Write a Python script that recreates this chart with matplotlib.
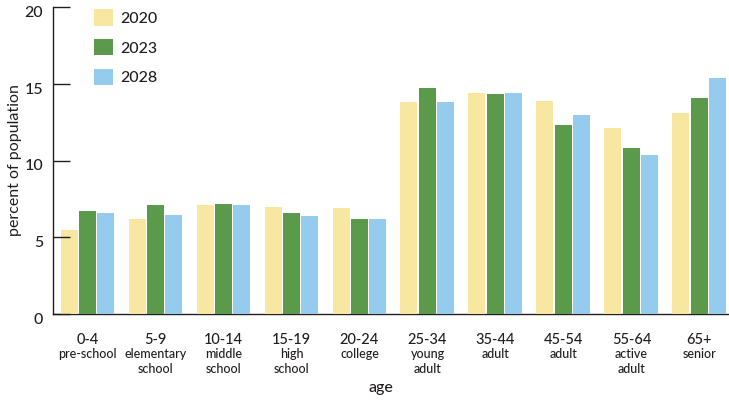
import matplotlib
matplotlib.use("Agg")
import matplotlib.pyplot as plt
from matplotlib.patches import Patch
from matplotlib.transforms import ScaledTranslation
import numpy as np

# ---- data ----
age_groups = ["0-4", "5-9", "10-14", "15-19", "20-24", "25-34", "35-44", "45-54", "55-64", "65+"]
age_names = ["pre-school", "elementary\nschool", "middle\nschool", "high\nschool", "college",
             "young\nadult", "adult", "adult", "active\nadult", "senior"]
years = ["2020", "2023", "2028"]
pct_2020 = [5.5, 6.2, 7.1, 7.0, 6.9, 13.8, 14.4, 13.85, 12.1, 13.1]
pct_2023 = [6.7, 7.1, 7.15, 6.6, 6.2, 14.7, 14.35, 12.3, 10.8, 14.05]
pct_2028 = [6.6, 6.45, 7.1, 6.4, 6.2, 13.8, 14.4, 12.95, 10.35, 15.35]
yticks = [0, 5, 10, 15, 20]

# ---- style ----
colors = ["#F7E7A1", "#5B9A4A", "#95CBED"]
text_color = "#231F20"
plt.rcParams['font.family'] = ['Lato', 'DejaVu Sans']
plt.rcParams['font.weight'] = 'medium'

W, H = 729, 401
fig = plt.figure(figsize=(W / 100, H / 100), dpi=100)
ax = fig.add_axes([53.3 / W, 1 - 314.3 / H, (W - 53.3) / W, (314.3 - 6.7) / H])

x = np.arange(len(age_groups))
width = 0.25
step = 0.272
for k, (vals, col) in enumerate(zip([pct_2020, pct_2023, pct_2028], colors)):
    ax.bar(x + (k - 1) * step, vals, width=width, color=col, linewidth=0, zorder=1)

ax.set_xlim(-0.503, 9.434)
ax.set_ylim(0, 20)

for s in ["top", "right"]:
    ax.spines[s].set_visible(False)
for s in ["left", "bottom"]:
    ax.spines[s].set_color(text_color)
    ax.spines[s].set_linewidth(1.0)
    ax.spines[s].set_zorder(0.5)

ax.set_yticks(yticks)
ax.set_yticklabels([str(t) for t in yticks])
ax.tick_params(axis="y", direction="in", length=12.2, width=1.0, color=text_color,
               pad=7.2, labelsize=11.5, labelcolor=text_color)
for lab in ax.get_yticklabels():
    lab.set_transform(lab.get_transform() + ScaledTranslation(0, -4.5 / 100, fig.dpi_scale_trans))

ax.set_xticks(x)
ax.set_xticklabels(age_groups)
ax.tick_params(axis="x", length=0, pad=13.5, labelsize=10.5, labelcolor=text_color)

for i, name in enumerate(age_names):
    ax.annotate(name, xy=(i, 0), xycoords=("data", "axes fraction"),
                xytext=(0, -34 * 0.72), textcoords="offset points",
                ha="center", va="top", fontsize=9, color=text_color, linespacing=1.3)

ax.set_ylabel("percent of population", fontsize=11.5, color=text_color)
ax.yaxis.set_label_coords(-(53.3 - 22) / (W - 53.3), 0.5)
fig.text(381 / W, 1 - 388 / H, "age", ha="center", va="center", fontsize=11.5, color=text_color)

handles = [Patch(facecolor=c, edgecolor="none") for c in colors]
fs_leg = 11.5
px = fs_leg * 100 / 72
leg = fig.legend(handles, years, loc="upper left",
                 bbox_to_anchor=(94 / W, 1 - 9.5 / H), bbox_transform=fig.transFigure,
                 frameon=False, fontsize=fs_leg, handlelength=19 / px, handleheight=19 / px,
                 handletextpad=7.5 / px, labelspacing=13 / px, borderpad=0, borderaxespad=0)
for t in leg.get_texts():
    t.set_color(text_color)

fig.savefig("out.png", dpi=100)
